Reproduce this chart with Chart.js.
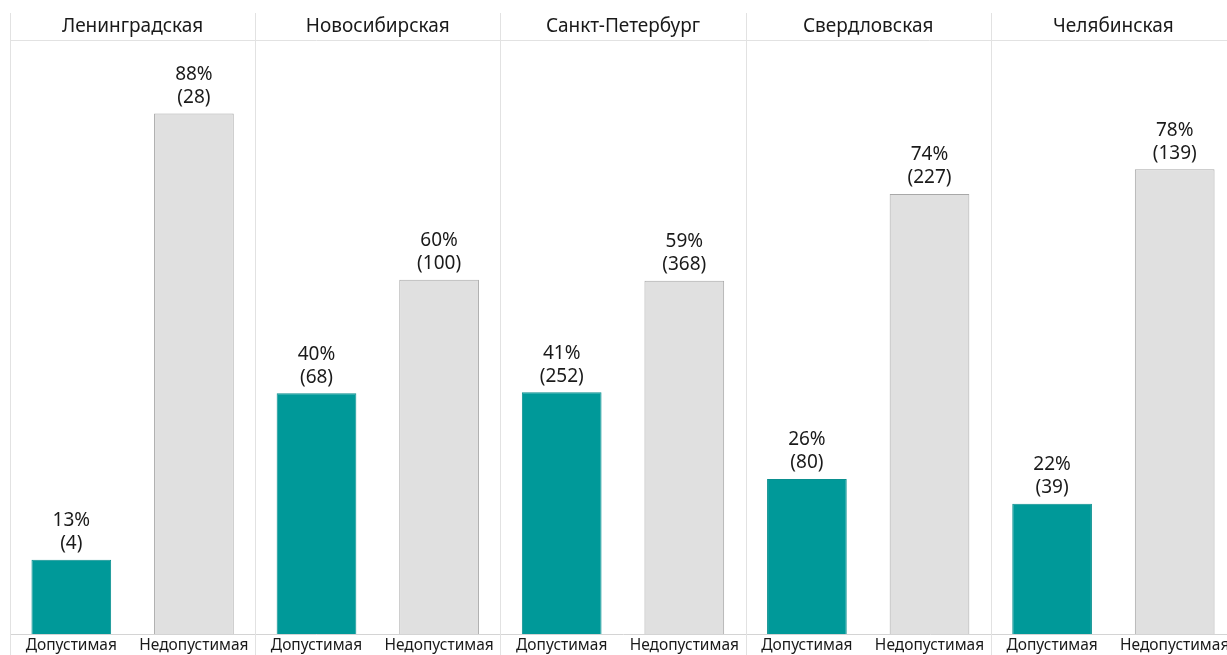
<!DOCTYPE html>
<html>
<head>
<meta charset="utf-8">
<script src="https://cdn.jsdelivr.net/npm/chart.js@4.4.1/dist/chart.umd.min.js"></script>
<style>
html,body{margin:0;padding:0;background:#fff;overflow:hidden;width:1227px;height:655px;}
#wrap{position:absolute;left:0;top:0;width:1240px;height:655px;}
</style>
</head>
<body>
<div id="wrap"><canvas id="c" width="1240" height="655"></canvas></div>
<script>
// Regions (panel headers)
const regions = ["Ленинградская", "Новосибирская", "Санкт-Петербург", "Свердловская", "Челябинская"];
// Categories within each region
const categories = ["Допустимая", "Недопустимая"];
// Share of region total, %
const pctAllowed    = [12.5, 40.48, 40.65, 26.06, 21.91];
const pctNotAllowed = [87.5, 59.52, 59.35, 73.94, 78.09];
// Counts shown in brackets
const cntAllowed    = [4, 68, 252, 80, 39];
const cntNotAllowed = [28, 100, 368, 227, 139];

const FONT = "'Noto Sans', sans-serif";
const TEAL = "#009999";
const GREY = "#e0e0e0";
const TXT = "#1a1a1a";

const labels = [], values = [], counts = [], colors = [], borders = [];
regions.forEach((r, i) => {
  labels.push(categories[0]); values.push(pctAllowed[i]); counts.push(cntAllowed[i]);
  colors.push(TEAL); borders.push("#0a8f8f");
  labels.push(categories[1]); values.push(pctNotAllowed[i]); counts.push(cntNotAllowed[i]);
  colors.push(GREY); borders.push("#a8a8a8");
});

const panelPlugin = {
  id: 'panels',
  beforeDatasetsDraw(chart) {
    const ctx = chart.ctx, xs = chart.scales.x, ca = chart.chartArea;
    ctx.save();
    ctx.strokeStyle = "#e2e2e2";
    ctx.lineWidth = 1;
    ctx.beginPath();
    ctx.moveTo(ca.left, 40.5); ctx.lineTo(ca.right, 40.5); ctx.stroke();
    const half = (xs.getPixelForValue(1) - xs.getPixelForValue(0)) / 2;
    for (let p = 0; p <= regions.length; p++) {
      const x = Math.round(xs.getPixelForValue(p * 2) - half) + 0.5;
      ctx.beginPath(); ctx.moveTo(x, 13); ctx.lineTo(x, 655); ctx.stroke();
    }
    ctx.fillStyle = TXT;
    ctx.font = "19px " + FONT;
    ctx.textAlign = "center"; ctx.textBaseline = "middle";
    regions.forEach((r, p) => {
      const cx = (xs.getPixelForValue(p * 2) + xs.getPixelForValue(p * 2 + 1)) / 2;
      ctx.fillText(r, cx, 27);
    });
    ctx.restore();
  },
  afterDatasetsDraw(chart) {
    const ctx = chart.ctx;
    const meta = chart.getDatasetMeta(0);
    ctx.save();
    ctx.fillStyle = TXT;
    ctx.font = "19px " + FONT;
    ctx.textAlign = "center"; ctx.textBaseline = "middle";
    meta.data.forEach((bar, i) => {
      ctx.fillText(Math.round(values[i]) + "%", bar.x, bar.y - 39);
      ctx.fillText("(" + counts[i] + ")", bar.x, bar.y - 16);
    });
    ctx.restore();
  }
};

new Chart(document.getElementById('c'), {
  type: 'bar',
  data: {
    labels: labels,
    datasets: [{
      data: values,
      backgroundColor: colors,
      borderColor: borders,
      borderWidth: 1,
      barPercentage: 0.65,
      categoryPercentage: 1.0
    }]
  },
  options: {
    responsive: false,
    animation: false,
    layout: { padding: { left: 10, right: 4, top: 39, bottom: 0 } },
    plugins: { legend: { display: false }, tooltip: { enabled: false } },
    scales: {
      x: {
        grid: { display: false, drawTicks: false },
        border: { display: true, color: "#d4d4d4" },
        ticks: { color: TXT, font: { family: FONT, size: 15.5 }, padding: 2, maxRotation: 0, autoSkip: false },
        afterFit(s) { s.height = 21; }
      },
      y: {
        display: false, min: 0, max: 100
      }
    }
  },
  plugins: [panelPlugin]
});
</script>
</body>
</html>
